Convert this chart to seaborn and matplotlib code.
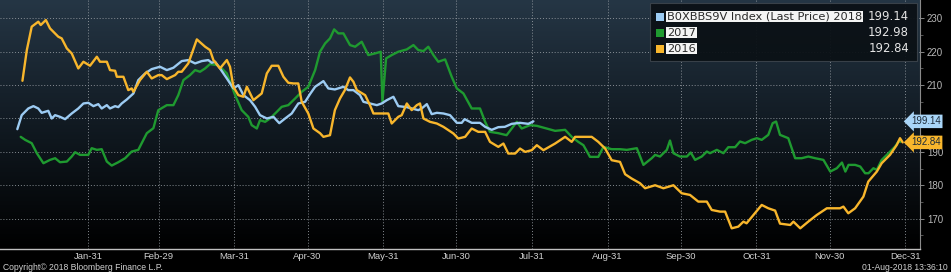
import numpy as np
import pandas as pd
import matplotlib
matplotlib.use("Agg")
import matplotlib.pyplot as plt
import matplotlib.transforms as mtransforms
from matplotlib.patches import Rectangle
from matplotlib.colors import LinearSegmentedColormap
import seaborn as sns

# ---------------- data (day of year, value) ----------------
days_2018 = [2.0, 3.8, 6.5, 8.6, 10.6, 12.0, 14.7, 16.1, 17.5, 19.5,
             21.6, 24.3, 27.0, 29.1, 31.1, 33.2, 35.2, 36.6, 38.7, 40.0,
             42.1, 43.4, 44.8, 46.9, 49.6, 51.6, 54.4, 57.1, 60.5, 63.3,
             66.0, 69.4, 72.1, 74.9, 77.6, 80.3, 81.7, 83.1, 85.1, 87.9,
             90.6, 92.6, 94.7, 97.4, 99.5, 101.5, 104.3, 107.0, 109.4, 111.8,
             114.5, 117.2, 120.0, 122.0, 124.1, 127.5, 129.5, 132.2, 135.7, 137.7,
             139.8, 142.5, 143.9, 146.6, 149.4, 151.4, 153.5, 156.2, 158.2, 161.7,
             163.7, 166.4, 167.8, 169.9, 171.9, 174.0, 176.7, 179.4, 182.2, 184.2,
             185.4, 188.3, 191.7, 193.8, 196.5, 199.2, 201.9, 204.7, 208.1, 211.5,
             213.6]
vals_2018 = [196.8, 201.0, 203.0, 203.7, 203.0, 201.7, 202.3, 200.0, 201.0, 200.5,
             199.8, 201.5, 203.0, 204.5, 204.7, 203.7, 204.3, 203.0, 204.0, 203.0,
             203.7, 203.4, 204.5, 205.7, 207.5, 211.5, 213.5, 214.8, 215.5, 214.5,
             215.2, 217.2, 217.5, 216.5, 217.2, 217.5, 216.7, 217.0, 215.0, 212.0,
             209.0, 210.0, 207.0, 205.5, 203.5, 201.0, 200.0, 200.5, 198.6, 200.0,
             201.5, 204.5, 205.0, 207.3, 209.5, 211.2, 209.0, 208.7, 209.5, 208.5,
             208.5, 207.0, 205.0, 204.5, 204.0, 204.5, 205.5, 206.5, 203.7, 203.4,
             203.0, 202.5, 203.0, 204.3, 201.3, 201.7, 201.5, 201.0, 198.7, 198.7,
             199.8, 198.7, 198.7, 197.5, 196.6, 197.4, 197.5, 198.4, 198.7, 198.4,
             199.14]

days_2017 = [3.4, 5.2, 7.9, 10.0, 12.7, 15.4, 17.5, 19.5, 22.3, 24.3,
             25.7, 27.7, 31.1, 32.5, 34.6, 36.6, 38.7, 40.7, 43.4, 46.2,
             48.9, 51.6, 55.1, 57.8, 59.8, 63.3, 66.0, 68.0, 70.1, 72.8,
             74.9, 76.9, 79.0, 81.0, 83.8, 85.8, 87.9, 89.2, 91.3, 94.0,
             96.7, 98.1, 100.2, 101.5, 103.6, 105.6, 108.4, 110.4, 113.1, 115.9,
             118.6, 121.3, 124.1, 126.1, 128.2, 130.2, 131.9, 133.6, 135.7, 138.4,
             140.5, 143.2, 145.9, 148.7, 151.0, 151.7, 153.2, 155.5, 158.2, 161.7,
             164.4, 166.4, 168.5, 170.5, 172.6, 174.6, 177.4, 180.1, 182.2, 184.9,
             188.3, 191.7, 193.8, 195.8, 199.2, 202.6, 206.8, 208.8, 212.2, 215.0,
             219.0, 222.5, 226.6, 229.3, 232.0, 234.1, 236.8, 240.2, 242.3, 245.7,
             249.1, 251.9, 256.0, 258.7, 262.1, 263.5, 265.5, 268.3, 269.6, 271.0,
             273.7, 276.5, 278.1, 279.9, 282.6, 284.7, 286.0, 288.8, 291.5, 293.5,
             296.3, 298.3, 300.4, 303.1, 305.2, 307.2, 309.9, 311.7, 313.1, 314.7,
             318.1, 320.9, 323.6, 326.3, 329.1, 332.5, 335.3, 338.0, 340.1, 341.5,
             342.8, 345.5, 347.6, 349.6, 351.0, 353.0, 354.4, 356.4, 359.2, 361.9,
             363.3, 364.0]
vals_2017 = [194.5, 193.6, 192.6, 189.6, 186.6, 187.6, 188.1, 186.9, 187.1, 188.6,
             189.9, 189.1, 189.1, 191.1, 190.6, 190.8, 187.1, 185.9, 186.9, 188.1,
             190.1, 190.6, 195.6, 197.1, 202.5, 204.0, 204.0, 207.0, 211.5, 213.0,
             214.5, 214.0, 215.0, 216.3, 216.0, 215.0, 213.5, 211.0, 207.0, 202.5,
             200.5, 198.0, 197.0, 199.5, 199.0, 200.0, 202.0, 203.5, 204.0, 206.0,
             208.0, 209.5, 214.5, 220.0, 222.5, 224.0, 226.7, 225.5, 225.5, 222.0,
             221.5, 223.0, 219.0, 219.5, 220.0, 205.0, 218.0, 219.0, 220.0, 220.7,
             222.0, 220.5, 220.2, 221.5, 219.0, 217.0, 217.7, 212.5, 209.0, 207.5,
             203.0, 203.0, 199.0, 196.0, 195.6, 195.0, 199.0, 197.0, 198.0, 197.8,
             197.0, 196.3, 196.6, 194.5, 193.0, 192.0, 188.5, 188.5, 191.5, 190.8,
             190.8, 190.6, 191.1, 186.1, 188.1, 189.1, 188.6, 190.6, 193.4, 189.6,
             188.6, 188.6, 189.8, 187.6, 188.6, 190.1, 189.6, 190.6, 189.6, 191.4,
             191.4, 193.1, 192.6, 193.6, 194.1, 193.6, 195.1, 198.6, 199.1, 195.1,
             194.1, 188.1, 188.1, 188.6, 188.1, 187.6, 184.1, 185.1, 186.8, 184.1,
             186.1, 186.1, 185.6, 183.6, 183.6, 185.1, 184.6, 187.6, 189.6, 191.6,
             193.1, 192.98]

days_2016 = [4.1, 5.9, 7.9, 10.6, 11.6, 13.7, 15.4, 18.8, 20.2, 22.3,
             24.3, 27.0, 29.1, 31.8, 34.6, 35.9, 38.7, 40.0, 42.1, 42.8,
             45.5, 47.5, 48.9, 49.6, 52.3, 55.1, 57.1, 59.8, 61.2, 63.3,
             66.7, 68.0, 69.4, 72.1, 75.6, 79.0, 81.0, 82.4, 85.1, 87.9,
             89.2, 90.6, 92.6, 94.7, 96.1, 98.8, 102.2, 104.3, 106.3, 109.0,
             111.1, 113.1, 115.2, 117.2, 118.6, 121.3, 123.4, 126.1, 127.5, 130.2,
             132.2, 134.3, 136.3, 138.4, 139.8, 141.2, 144.6, 146.6, 148.0, 154.1,
             155.5, 158.2, 159.6, 161.7, 163.7, 165.8, 167.1, 168.5, 171.2, 174.0,
             176.7, 180.8, 182.8, 185.6, 188.3, 191.0, 193.8, 195.8, 199.2, 201.3,
             203.3, 206.1, 208.1, 210.2, 212.9, 215.0, 217.7, 222.5, 226.6, 229.3,
             230.7, 237.5, 240.2, 243.0, 245.7, 249.1, 251.2, 253.9, 257.3, 259.4,
             263.5, 266.9, 271.0, 274.4, 277.8, 281.2, 284.7, 286.7, 290.1, 292.2,
             294.9, 297.6, 299.7, 301.0, 303.8, 307.2, 309.9, 312.7, 314.7, 318.9,
             320.2, 323.0, 326.3, 329.8, 333.9, 339.3, 340.7, 342.7, 345.5, 348.9,
             350.9, 354.4, 356.4, 359.8, 362.6, 363.9, 365.0]
vals_2016 = [211.3, 220.5, 227.5, 229.0, 228.0, 229.5, 227.0, 224.5, 224.0, 221.0,
             219.5, 215.0, 217.0, 215.8, 218.5, 217.0, 217.0, 214.5, 214.3, 212.5,
             212.5, 208.5, 209.0, 208.0, 211.5, 214.0, 212.0, 213.0, 213.0, 211.8,
             213.0, 214.0, 214.0, 216.5, 223.7, 221.5, 220.5, 217.5, 215.0, 217.5,
             215.5, 209.5, 207.0, 206.5, 209.5, 205.5, 207.5, 213.5, 215.8, 215.8,
             212.5, 210.7, 210.5, 210.5, 205.0, 201.5, 197.0, 195.6, 194.5, 195.0,
             202.5, 206.0, 208.5, 212.3, 211.0, 208.5, 207.0, 204.0, 201.5, 201.5,
             198.5, 200.5, 201.0, 204.5, 202.5, 204.0, 204.5, 200.0, 199.0, 198.5,
             197.5, 195.5, 194.0, 194.5, 197.0, 196.0, 196.0, 193.0, 191.5, 192.5,
             189.5, 189.5, 191.0, 190.0, 190.5, 192.0, 190.5, 192.5, 194.5, 193.0,
             194.5, 194.5, 193.0, 191.0, 187.5, 187.0, 183.3, 182.0, 180.6, 179.1,
             180.0, 179.1, 180.0, 177.6, 177.1, 175.1, 175.1, 172.6, 172.1, 172.1,
             167.1, 167.6, 169.1, 168.6, 171.1, 174.1, 173.1, 172.4, 168.5, 168.1,
             169.1, 167.1, 169.1, 171.1, 173.1, 173.1, 173.6, 171.6, 173.1, 176.6,
             181.1, 184.1, 186.6, 189.1, 192.1, 194.1, 192.84]

series_names = ["2018", "2017", "2016"]
legend_labels = ["B0XBBS9V Index (Last Price) 2018", "2017", "2016"]
last_values = ["199.14", "192.98", "192.84"]
month_ticks = [31, 60, 91, 121, 152, 182, 213, 244, 274, 305, 335, 366]
month_labels = ["Jan-31", "Feb-29", "Mar-31", "Apr-30", "May-31", "Jun-30",
                "Jul-31", "Aug-31", "Sep-30", "Oct-31", "Nov-30", "Dec-31"]
y_ticks = [170, 180, 190, 200, 210, 220, 230]
y_tick_labels = ["170", "180", "190", "", "210", "220", "230"]

colors = {"2018": "#9ccbf2", "2017": "#1f9a30", "2016": "#f8b62c"}

# ---------------- frame ----------------
df = pd.concat([
    pd.DataFrame({"day": days_2018, "value": vals_2018, "series": "2018"}),
    pd.DataFrame({"day": days_2017, "value": vals_2017, "series": "2017"}),
    pd.DataFrame({"day": days_2016, "value": vals_2016, "series": "2016"}),
], ignore_index=True)

sns.set_theme(style="dark")
plt.rcParams['font.family'] = ['Liberation Sans Narrow', 'Liberation Sans', 'DejaVu Sans']

W, H = 951, 272
fig = plt.figure(figsize=(W / 100, H / 100), dpi=100, facecolor="black")
rect = [0, 23 / H, 920 / W, 249 / H]

# gradient background
bg = fig.add_axes(rect, zorder=0)
cmap = LinearSegmentedColormap.from_list("bbg", ["#253645", "#111a22", "#000000"])
bg.imshow(np.linspace(0, 1, 256).reshape(-1, 1), aspect="auto", cmap=cmap,
          extent=[0, 1, 0, 1], origin="upper")
bg.set_axis_off()

ax = fig.add_axes(rect, zorder=1)
ax.set_facecolor("none")

sns.lineplot(data=df, x="day", y="value", hue="series",
             hue_order=["2017", "2018", "2016"], palette=colors,
             estimator=None, sort=False, linewidth=1.7, legend=False, ax=ax)

ax.set_xlim(-5.1, 372.1)
ax.set_ylim(160.9, 235.5)
ax.set_xlabel("")
ax.set_ylabel("")

ax.set_xticks(month_ticks)
ax.set_xticklabels(month_labels)
ax.yaxis.tick_right()
ax.set_yticks(y_ticks)
ax.set_yticklabels(y_tick_labels)
ax.set_yticks([165, 175, 185, 195, 205, 215, 225], minor=True)

ax.grid(True, which="major", color="#9aa0a6", linestyle=(0, (1, 2)), linewidth=0.7, alpha=0.85)
ax.tick_params(axis="x", colors="#9a9a9a", labelcolor="#d0d0d0", labelsize=6.8,
               length=2, width=0.6, direction="out", pad=0.5)
ax.tick_params(axis="y", which="major", colors="#9a9a9a", labelcolor="#b8b8b8",
               labelsize=7, length=3, width=0.6, direction="out", pad=2,
               right=True, left=False)
ax.tick_params(axis="y", which="minor", colors="#777777", length=2, width=0.5,
               right=True, left=False)

for s in ["top", "left"]:
    ax.spines[s].set_visible(False)
ax.spines["bottom"].set_color("#bfbfbf")
ax.spines["bottom"].set_linewidth(1.0)
ax.spines["right"].set_color("#8a8a8a")
ax.spines["right"].set_linewidth(0.8)

# ---------------- legend box (pixel coordinates) ----------------
pix = mtransforms.Affine2D().scale(1 / W, -1 / H).translate(0, 1) + fig.transFigure
fig.add_artist(Rectangle((650, 3), 267, 58, transform=pix, facecolor="#0b1116",
                         edgecolor="#3b434b", linewidth=0.8, alpha=0.95, zorder=5))
row_y = [16.5, 32.5, 48.5]
for name, lab, val, yy in zip(series_names, legend_labels, last_values, row_y):
    fig.add_artist(Rectangle((656, yy - 4), 8, 8, transform=pix,
                             facecolor=colors[name], edgecolor="none", zorder=6))
    fig.text(667, yy, lab, transform=pix, ha="left", va="center", fontsize=8.2,
             family=["DejaVu Sans"], color="#2a2a2a", zorder=7,
             bbox=dict(boxstyle="square,pad=0.08", fc="#f4f4f4", ec="none"))
    fig.text(909, yy, val, transform=pix, ha="right", va="center", fontsize=8.4,
             family=["DejaVu Sans"], color="#e6e6e6", zorder=7)

# ---------------- last-value tags ----------------
blend = mtransforms.blended_transform_factory(fig.transFigure, ax.transData)
tag_specs = [("2018", vals_2018[-1], last_values[0], "#a9d5f7"),
             ("2016", vals_2016[-1], last_values[2], "#f8b62c")]
for name, v, txt, fc in tag_specs:
    fig.text(911 / W, v, txt, transform=blend, ha="left", va="center", fontsize=7,
             color="#1c2a38", zorder=8,
             bbox=dict(boxstyle="larrow,pad=0.18", fc=fc, ec="none"))

# ---------------- footer ----------------
fig.text(3, 268, "Copyright\u00a9 2018 Bloomberg Finance L.P.", transform=pix,
         ha="left", va="center", fontsize=6.2, color="#d0d0d0")
fig.text(948, 268, "01-Aug-2018 13:36:10", transform=pix,
         ha="right", va="center", fontsize=6.2, color="#d0d0d0")

fig.savefig("out.png", dpi=100, facecolor="black")
